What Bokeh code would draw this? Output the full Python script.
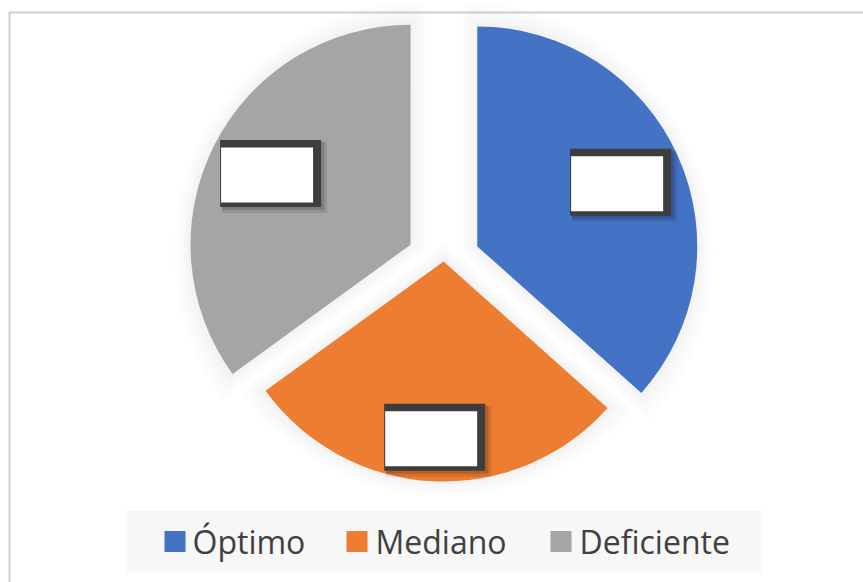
import numpy as np
from bokeh.plotting import figure
from bokeh.models import Range1d
from bokeh.core.properties import value
from bokeh.embed import file_html
from bokeh.resources import INLINE

# ---- data ----
categories = ["Óptimo", "Mediano", "Deficiente"]
values = [36.6, 28.4, 35.0]
colors = ["#4472C4", "#ED7D31", "#A5A5A5"]

# ---- layout / style ----
W, H = 863, 582
def sy(y):                    # screen y -> data y
    return 582 - y

CX, CY = 443.0, sy(261)       # pie base centre
R = 220.0
explode = [37.0, 0.0, 37.0]
label_frac = [0.714, 0.80, 0.714]

p = figure(width=W, height=H, x_range=Range1d(0, 863), y_range=Range1d(0, 582),
           x_axis_type=None, y_axis_type=None, output_backend="svg",
           toolbar_location=None, min_border=0)
p.outline_line_color = None
p.grid.visible = False
p.background_fill_color = "white"
p.border_fill_color = "white"

# chart border
p.quad(left=9, right=2000, top=sy(12), bottom=-1000, fill_alpha=0,
       line_color="#cfcfcf", line_width=2)

total = float(sum(values))
start = np.pi / 2
geo = []
for v, e in zip(values, explode):
    span = v / total * 2 * np.pi
    a_end = start
    a_start = start - span
    bis = start - span / 2
    start -= span
    cx = CX + e * np.cos(bis)
    cy = CY + e * np.sin(bis)
    geo.append((a_start, a_end, bis, span, cx, cy))

# soft glow / shadow around slices
for (a0, a1, bis, span, cx, cy) in geo:
    half = span / 2
    for k in [14, 10, 6, 3]:
        s = k / np.sin(half)
        gx = cx - s * np.cos(bis)
        gy = cy - s * np.sin(bis)
        p.wedge(x=[gx], y=[gy], radius=R + s + k, start_angle=a0, end_angle=a1,
                fill_color="#707070", fill_alpha=0.022, line_color=None)

# slices
for (a0, a1, bis, span, cx, cy), c in zip(geo, colors):
    p.wedge(x=[cx], y=[cy], radius=R, start_angle=a0, end_angle=a1,
            fill_color=c, line_color=None)

# data label boxes (empty white boxes with dark frame)
for (a0, a1, bis, span, cx, cy), f in zip(geo, label_frac):
    lx = cx + f * R * np.cos(bis)
    ly = cy + f * R * np.sin(bis)
    p.rect(x=[lx + 4], y=[ly - 4], width=105, height=71, fill_color="#000000",
           fill_alpha=0.10, line_color=None)
    p.rect(x=[lx + 2.5], y=[ly - 2.5], width=102, height=68, fill_color="#000000",
           fill_alpha=0.15, line_color=None)
    p.rect(x=[lx], y=[ly], width=101, height=67, fill_color="#3d3d3d",
           line_color=None)
    p.rect(x=[lx - 3.5], y=[ly - 1.5], width=92, height=55, fill_color="white",
           line_color=None)

# legend
p.quad(left=126, right=761, top=sy(510), bottom=sy(572),
       fill_color="#f7f7f7", line_color=None)
sq_x = [174.5, 356.5, 560.5]
tx_x = [192, 375, 579]
p.rect(x=sq_x, y=[sy(541)] * 3, width=21, height=21, fill_color=colors,
       line_color=None)
p.text(x=tx_x, y=[sy(541)] * 3, text=categories, text_font=value("Open Sans"),
       text_font_size="32px", text_color="#404040", text_baseline="alphabetic",
       text_align="left")

open("out.html", "w").write(file_html(p, INLINE))
